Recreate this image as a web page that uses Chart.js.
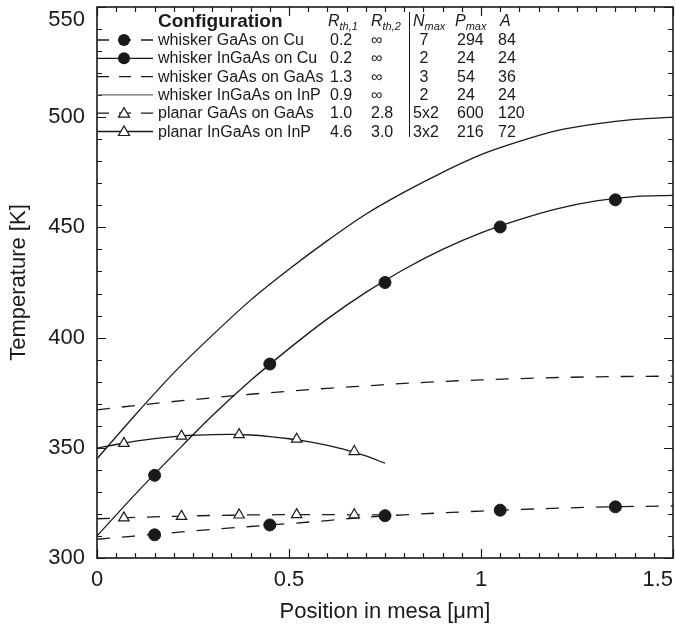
<!DOCTYPE html>
<html>
<head>
<meta charset="utf-8">
<script src="https://cdn.jsdelivr.net/npm/chart.js@4.4.1/dist/chart.umd.min.js"></script>
<style>
  html, body { margin: 0; padding: 0; background: #fff; }
  #wrap { position: relative; width: 676px; height: 638px; font-family: "Liberation Sans", Arial, sans-serif; color: #1a1a1a; }
  #chart { position: absolute; left: 0; top: 0; }
  #legend { position: absolute; left: 0; top: 0; width: 676px; height: 150px; pointer-events: none; }
  .cell { position: absolute; font-size: 16px; line-height: 18px; white-space: nowrap; }
  .hd { position: absolute; font-size: 16px; line-height: 18px; white-space: nowrap; font-style: italic; }
  .sb { font-size: 11px; position: relative; top: 4px; }
  #divider { position: absolute; left: 409px; top: 12px; width: 1.3px; height: 125px; background: #1a1a1a; }
</style>
</head>
<body>
<div id="wrap">
  <canvas id="chart" width="676" height="638"></canvas>
  <div id="legend">
    <svg id="samples" width="676" height="150" style="position:absolute;left:0;top:0"></svg>
    <div id="divider"></div>
  </div>
</div>
<script>
// curves of the whiskers (position in mesa, µm)
const xLong = [0, 0.1, 0.2, 0.3, 0.4, 0.5, 0.6, 0.7, 0.8, 0.9, 1.0, 1.1, 1.2, 1.3, 1.4, 1.5];
const whiskerGaAsCu = [308.5, 310, 311.5, 313, 314.3, 315.6, 317, 318.5, 319.6, 320.5, 321.3, 322, 322.6, 323.1, 323.4, 323.6];
const whiskerInGaAsCu = [310, 329, 347, 364.5, 380.5, 395, 408.5, 420.5, 431, 440, 447.5, 453.5, 458.5, 462, 464, 464.5];
const whiskerGaAsGaAs = [367.2, 369.2, 371, 372.7, 374.3, 375.7, 377, 378.1, 379.2, 380.1, 380.8, 381.4, 381.9, 382.2, 382.4, 382.5];
const whiskerInGaAsInP = [345, 365, 384, 401, 417, 431, 444, 456, 466, 475, 483, 489, 494, 497, 499, 500];

// planar devices
const xShort = [0, 0.05, 0.1, 0.15, 0.2, 0.25, 0.3, 0.35, 0.4, 0.45, 0.5, 0.55, 0.6, 0.65, 0.7, 0.75];
const planarGaAsGaAs = [317.8, 318.1, 318.4, 318.7, 318.9, 319.1, 319.3, 319.4, 319.6, 319.6, 319.7, 319.7, 319.7, 319.6, 319.6, 319.5];
const planarInGaAsInP = [349.8, 351.5, 353, 354.2, 355.1, 355.7, 356, 356.1, 355.8, 355.1, 354.1, 352.8, 351.1, 349, 346.3, 343];

// markers
const xCircle = [0.15, 0.45, 0.75, 1.05, 1.35];
const circGaAsCu = [310.5, 315, 319.2, 321.7, 323.2];
const circInGaAsCu = [337.5, 388, 425, 450.2, 462.5];
const xTriangle = [0.07, 0.22, 0.37, 0.52, 0.67];
const triGaAsGaAs = [318.2, 318.9, 319.5, 319.7, 319.6];
const triInGaAsInP = [352, 355.3, 356, 353.9, 348.3];

// legend table
const configNames = ['whisker GaAs on Cu', 'whisker InGaAs on Cu', 'whisker GaAs on GaAs', 'whisker InGaAs on InP', 'planar GaAs on GaAs', 'planar InGaAs on InP'];
const rth1 = ['0.2', '0.2', '1.3', '0.9', '1.0', '4.6'];
const rth2 = ['∞', '∞', '∞', '∞', '2.8', '3.0'];
const nMax = ['7', '2', '3', '2', '5x2', '3x2'];
const pMax = ['294', '24', '54', '24', '600', '216'];
const area = ['84', '24', '36', '24', '120', '72'];
const sampleDash = [true, false, true, false, true, false];
const sampleMarker = ['circle', 'circle', null, null, 'triangle', 'triangle'];

const ink = '#1a1a1a';
const dash = [13, 12];
const pts = (xs, ys) => xs.map((x, i) => ({x: x, y: ys[i]}));

function lineSet(xs, ys, dashed) {
    return {
        data: pts(xs, ys),
        showLine: true,
        borderColor: ink,
        borderWidth: 1.3,
        borderDash: dashed ? dash : [],
        pointRadius: 0,
        cubicInterpolationMode: 'monotone'
    };
}

function markSet(xs, ys, style) {
    return {
        data: pts(xs, ys),
        showLine: false,
        pointStyle: style,
        pointRadius: 6,
        pointBorderWidth: style === 'circle' ? 1 : 1.2,
        pointBackgroundColor: style === 'circle' ? ink : '#fff',
        pointBorderColor: ink
    };
}

const isMajor = (v, step) => Math.abs(v / step - Math.round(v / step)) < 1e-6;

// inward ticks on all four sides plus the frame
const frameTicks = {
    id: 'frameTicks',
    afterDraw(chart) {
        const {ctx, chartArea: a, scales: {x, y}} = chart;
        ctx.save();
        ctx.strokeStyle = ink;
        ctx.lineWidth = 1.2;
        ctx.beginPath();
        x.ticks.forEach(t => {
            const px = Math.round(x.getPixelForValue(t.value)) + 0.5;
            const len = isMajor(t.value, 0.5) ? 9 : 5;
            ctx.moveTo(px, a.bottom); ctx.lineTo(px, a.bottom - len);
            ctx.moveTo(px, a.top); ctx.lineTo(px, a.top + len);
        });
        y.ticks.forEach(t => {
            const py = Math.round(y.getPixelForValue(t.value)) + 0.5;
            const len = isMajor(t.value, 50) ? 9 : 5;
            ctx.moveTo(a.left, py); ctx.lineTo(a.left + len, py);
            ctx.moveTo(a.right, py); ctx.lineTo(a.right - len, py);
        });
        ctx.stroke();
        ctx.lineWidth = 1.6;
        ctx.strokeRect(a.left, a.top, a.right - a.left, a.bottom - a.top);
        ctx.restore();
    }
};

const font = {family: '"Liberation Sans", Arial, sans-serif', size: 22};

// edge labels are nudged inside the frame like in the original figure
function xLabel(v) {
    if (!isMajor(v, 0.5)) return '';
    const s = String(Math.round(v * 2) / 2);
    return v >= 1.5 ? s + '     ' : s;
}
function yLabel(v) {
    if (!isMajor(v, 50)) return '';
    const s = String(Math.round(v));
    return v >= 550 ? ['', s] : s;
}
// the plot box is fixed, so label overflow must not shrink it
const noPad = s => {
    s.paddingLeft = 0; s.paddingRight = 0; s.paddingTop = 0; s.paddingBottom = 0;
};

new Chart(document.getElementById('chart'), {
    type: 'scatter',
    data: {
        datasets: [
            markSet(xCircle, circGaAsCu, 'circle'),
            markSet(xCircle, circInGaAsCu, 'circle'),
            markSet(xTriangle, triGaAsGaAs, 'triangle'),
            markSet(xTriangle, triInGaAsInP, 'triangle'),
            lineSet(xLong, whiskerGaAsCu, true),
            lineSet(xLong, whiskerInGaAsCu, false),
            lineSet(xLong, whiskerGaAsGaAs, true),
            lineSet(xLong, whiskerInGaAsInP, false),
            lineSet(xShort, planarGaAsGaAs, true),
            lineSet(xShort, planarInGaAsInP, false)
        ]
    },
    options: {
        responsive: false,
        animation: false,
        devicePixelRatio: 1,
        layout: {autoPadding: false, padding: {top: 7, right: 3, left: 0, bottom: 0}},
        plugins: {legend: {display: false}, tooltip: {enabled: false}},
        scales: {
            x: {
                type: 'linear',
                min: 0,
                max: 1.5,
                afterFit: s => { s.height = 80; noPad(s); },
                grid: {display: false, drawTicks: false},
                border: {display: false},
                ticks: {
                    stepSize: 0.05,
                    autoSkip: false,
                    maxRotation: 0,
                    padding: 9,
                    color: ink,
                    font: font,
                    callback: xLabel
                },
                title: {display: true, text: 'Position in mesa [μm]', color: ink, font: font, padding: 13}
            },
            y: {
                min: 300,
                max: 550,
                afterFit: s => { s.width = 97; noPad(s); },
                grid: {display: false, drawTicks: false},
                border: {display: false},
                ticks: {
                    stepSize: 10,
                    autoSkip: false,
                    padding: 12,
                    color: ink,
                    font: font,
                    callback: yLabel
                },
                title: {display: true, text: 'Temperature [K]', color: ink, font: font, padding: 6}
            }
        }
    },
    plugins: [frameTicks]
});

// legend table (HTML text) with line samples
const legend = document.getElementById('legend');
const svg = document.getElementById('samples');
const NS = 'http://www.w3.org/2000/svg';

function addCell(html, left, top, cls, extra) {
    const d = document.createElement('div');
    d.className = cls;
    d.style.left = left + 'px';
    d.style.top = top + 'px';
    if (extra) Object.assign(d.style, extra);
    d.innerHTML = html;
    legend.appendChild(d);
    return d;
}

addCell('Configuration', 158, 10, 'cell', {fontWeight: 'bold', fontSize: '19px', lineHeight: '22px'});
addCell('R<span class="sb">th,1</span>', 328, 12, 'hd');
addCell('R<span class="sb">th,2</span>', 371, 12, 'hd');
addCell('N<span class="sb">max</span>', 413, 12, 'hd');
addCell('P<span class="sb">max</span>', 455, 12, 'hd');
addCell('A', 500, 12, 'hd');

const rowCenters = [40, 58.3, 76.6, 94.9, 113.2, 131.5];
configNames.forEach((name, i) => {
    const top = rowCenters[i] - 9;
    addCell(name, 158, top, 'cell');
    addCell(rth1[i], 330, top, 'cell');
    addCell(rth2[i], 371, top, 'cell');
    addCell(nMax[i], 413, top, 'cell', {width: '22px', textAlign: 'center'});
    addCell(pMax[i], 457, top, 'cell');
    addCell(area[i], 498, top, 'cell');

    const cy = rowCenters[i];
    const ln = document.createElementNS(NS, 'line');
    ln.setAttribute('x1', 97); ln.setAttribute('x2', 153);
    ln.setAttribute('y1', cy); ln.setAttribute('y2', cy);
    ln.setAttribute('stroke', sampleMarker[i] || sampleDash[i] ? ink : '#666');
    ln.setAttribute('stroke-width', 1.3);
    if (sampleDash[i]) ln.setAttribute('stroke-dasharray', '12 10');
    svg.appendChild(ln);
    if (sampleMarker[i] === 'circle') {
        const c = document.createElementNS(NS, 'circle');
        c.setAttribute('cx', 124); c.setAttribute('cy', cy); c.setAttribute('r', 6);
        c.setAttribute('fill', ink);
        svg.appendChild(c);
    } else if (sampleMarker[i] === 'triangle') {
        const p = document.createElementNS(NS, 'polygon');
        p.setAttribute('points', `118.5,${cy + 4} 129.5,${cy + 4} 124,${cy - 5.5}`);
        p.setAttribute('fill', '#fff'); p.setAttribute('stroke', ink); p.setAttribute('stroke-width', 1.2);
        svg.appendChild(p);
    }
});
</script>
</body>
</html>
